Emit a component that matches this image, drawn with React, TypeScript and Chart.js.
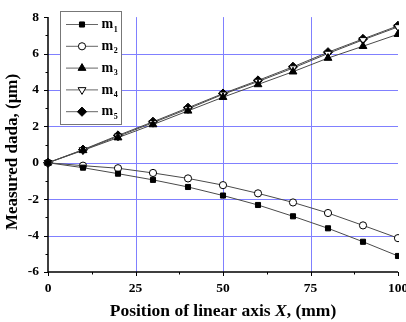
import React, { useEffect, useRef } from "react";
import { Chart, registerables } from "chart.js";
import { drawPoint } from "chart.js/helpers";

Chart.register(...registerables);

const xValues = [0, 10, 20, 30, 40, 50, 60, 70, 80, 90, 100];
const m1 = [0, -0.27, -0.6, -0.94, -1.33, -1.8, -2.32, -2.94, -3.6, -4.34, -5.12];
const m2 = [0, -0.16, -0.3, -0.56, -0.86, -1.23, -1.68, -2.18, -2.76, -3.44, -4.14];
const m3 = [0, 0.68, 1.38, 2.1, 2.85, 3.6, 4.3, 5.0, 5.75, 6.4, 7.06];
const m4 = [0, 0.7, 1.45, 2.2, 2.96, 3.76, 4.46, 5.2, 6.0, 6.75, 7.46];
const m5 = [0, 0.72, 1.5, 2.25, 3.02, 3.8, 4.52, 5.27, 6.07, 6.8, 7.52];
const seriesNames = ["1", "2", "3", "4", "5"];
const xTicks = [0, 25, 50, 75, 100];
const yTicks = [-6, -4, -2, 0, 2, 4, 6, 8];
const xMinorTicks = [12.5, 37.5, 62.5, 87.5];
const yMinorTicks = [-5, -3, -1, 1, 3, 5, 7];
const xGrid = [25, 50, 75];
const yGrid = [-4, -2, 0, 2, 4, 6];

const LINE = "#4a4a4a";
const GRID = "#8080ff";
const FONT = "'Liberation Serif', 'Times New Roman', serif";

type Marker = { style: string; fill: string; radius: number; rotation: number };
const markers: Marker[] = [
  { style: "rect", fill: "#000", radius: 3.6, rotation: 0 },
  { style: "circle", fill: "#fff", radius: 3.6, rotation: 0 },
  { style: "triangle", fill: "#000", radius: 4.5, rotation: 0 },
  { style: "triangle", fill: "#fff", radius: 4.5, rotation: 180 },
  { style: "rectRot", fill: "#000", radius: 4.6, rotation: 0 },
];

const seriesValues = [m1, m2, m3, m4, m5];

const gridPlugin = {
  id: "gridPlugin",
  beforeDatasetsDraw(chart: any) {
    const ctx = chart.ctx;
    const ca = chart.chartArea;
    const xs = chart.scales.x;
    const ys = chart.scales.y;
    ctx.save();
    ctx.strokeStyle = GRID;
    ctx.lineWidth = 1;
    ctx.beginPath();
    xGrid.forEach((v) => {
      const px = Math.round(xs.getPixelForValue(v)) + 0.5;
      ctx.moveTo(px, ca.top);
      ctx.lineTo(px, ca.bottom);
    });
    yGrid.forEach((v) => {
      const py = Math.round(ys.getPixelForValue(v)) + 0.5;
      ctx.moveTo(ca.left, py);
      ctx.lineTo(ca.right, py);
    });
    ctx.stroke();
    ctx.restore();
  },
};

const overlay = {
  id: "overlay",
  afterDraw(chart: any) {
    const ctx = chart.ctx;
    const ca = chart.chartArea;
    const xs = chart.scales.x;
    const ys = chart.scales.y;
    ctx.save();
    // axes
    ctx.strokeStyle = "#000";
    ctx.lineWidth = 1.5;
    ctx.beginPath();
    ctx.moveTo(ca.left, ca.top);
    ctx.lineTo(ca.left, ca.bottom);
    ctx.lineTo(ca.right, ca.bottom);
    ctx.stroke();
    ctx.lineWidth = 1;
    ctx.beginPath();
    xTicks.forEach((v) => {
      const px = Math.round(xs.getPixelForValue(v)) + 0.5;
      ctx.moveTo(px, ca.bottom);
      ctx.lineTo(px, ca.bottom + 4);
    });
    xMinorTicks.forEach((v) => {
      const px = Math.round(xs.getPixelForValue(v)) + 0.5;
      ctx.moveTo(px, ca.bottom);
      ctx.lineTo(px, ca.bottom + 2.5);
    });
    yTicks.forEach((v) => {
      const py = Math.round(ys.getPixelForValue(v)) + 0.5;
      ctx.moveTo(ca.left, py);
      ctx.lineTo(ca.left - 4, py);
    });
    yMinorTicks.forEach((v) => {
      const py = Math.round(ys.getPixelForValue(v)) + 0.5;
      ctx.moveTo(ca.left, py);
      ctx.lineTo(ca.left - 2.5, py);
    });
    ctx.stroke();

    // x title with italic X
    ctx.fillStyle = "#000";
    ctx.textBaseline = "middle";
    const p1 = "Position of linear axis ";
    const p2 = "X";
    const p3 = ", (mm)";
    const fB = `bold 17.5px ${FONT}`;
    const fI = `italic bold 17.5px ${FONT}`;
    ctx.font = fB;
    const w1 = ctx.measureText(p1).width;
    const w3 = ctx.measureText(p3).width;
    ctx.font = fI;
    const w2 = ctx.measureText(p2).width;
    const total = w1 + w2 + w3;
    let tx = (ca.left + ca.right) / 2 - total / 2;
    const ty = 311;
    ctx.textAlign = "left";
    ctx.font = fB;
    ctx.fillText(p1, tx, ty);
    tx += w1;
    ctx.font = fI;
    ctx.fillText(p2, tx, ty);
    tx += w2;
    ctx.font = fB;
    ctx.fillText(p3, tx, ty);

    // y title
    ctx.save();
    ctx.translate(13, 152);
    ctx.rotate(-Math.PI / 2);
    ctx.textAlign = "center";
    ctx.font = `bold 17px ${FONT}`;
    ctx.fillText("Measured dada, (\u03bcm)", 0, 0);
    ctx.restore();

    // legend
    const bx = 60.5, by = 11.5, bw = 61, bh = 113;
    ctx.fillStyle = "#fff";
    ctx.fillRect(bx, by, bw, bh);
    ctx.strokeStyle = "#777";
    ctx.lineWidth = 1;
    ctx.strokeRect(bx, by, bw, bh);
    seriesNames.forEach((name, i) => {
      const cy = 24.5 + i * 21.8;
      ctx.strokeStyle = "#666";
      ctx.lineWidth = 1;
      ctx.beginPath();
      ctx.moveTo(66, cy);
      ctx.lineTo(98, cy);
      ctx.stroke();
      const mk = markers[i];
      ctx.fillStyle = mk.fill;
      ctx.strokeStyle = "#000";
      drawPoint(ctx, { pointStyle: mk.style, radius: mk.radius, rotation: mk.rotation, borderWidth: 1 } as any, 82, cy);
      ctx.fillStyle = "#000";
      ctx.textAlign = "left";
      ctx.textBaseline = "middle";
      ctx.font = `bold 14px ${FONT}`;
      ctx.fillText("m", 101.5, cy);
      const mw = ctx.measureText("m").width;
      ctx.font = `bold 8px ${FONT}`;
      ctx.fillText(name, 101.5 + mw + 0.5, cy + 5);
    });
    ctx.restore();
  },
};

export default function App() {
  const ref = useRef<HTMLCanvasElement | null>(null);
  useEffect(() => {
    if (!ref.current) return;
    const datasets = seriesValues.map((vals, i) => ({
      label: "m" + seriesNames[i],
      data: vals.map((y, j) => ({ x: xValues[j], y })),
      borderColor: LINE,
      borderWidth: 1,
      pointStyle: markers[i].style,
      pointRadius: markers[i].radius,
      pointRotation: markers[i].rotation,
      pointBackgroundColor: markers[i].fill,
      pointBorderColor: "#000",
      pointBorderWidth: 1,
      tension: 0,
      fill: false,
      clip: { left: 10, top: 10, bottom: 10, right: 1 },
    }));
    const chart = new Chart(ref.current, {
      type: "line",
      data: { datasets },
      options: {
        animation: false,
        responsive: false,
        maintainAspectRatio: false,
        layout: { padding: { top: 13, right: 8, left: 0, bottom: 0 } },
        plugins: { legend: { display: false }, tooltip: { enabled: false } },
        scales: {
          x: {
            type: "linear",
            min: 0,
            max: 100,
            border: { display: false },
            grid: { display: false, drawTicks: false },
            ticks: {
              stepSize: 25,
              padding: 8,
              color: "#000",
              font: { family: FONT, size: 13.5, weight: "bold" },
              maxRotation: 0,
            },
            afterFit: (s: any) => {
              s.height = 50;
              s.paddingLeft = 0;
              s.paddingRight = 0;
            },
          },
          y: {
            type: "linear",
            min: -6,
            max: 8,
            border: { display: false },
            grid: { display: false, drawTicks: false },
            ticks: {
              stepSize: 2,
              padding: 9,
              color: "#000",
              font: { family: FONT, size: 13.5, weight: "bold" },
            },
            afterFit: (s: any) => {
              s.width = 48;
            },
          },
        },
      },
      plugins: [gridPlugin, overlay],
    } as any);
    return () => chart.destroy();
  }, []);
  return (
    <div style={{ position: "absolute", left: 0, top: 0, width: 406, height: 322, background: "#fff" }}>
      <canvas ref={ref} width={406} height={322} style={{ width: 406, height: 322, display: "block" }} />
    </div>
  );
}
